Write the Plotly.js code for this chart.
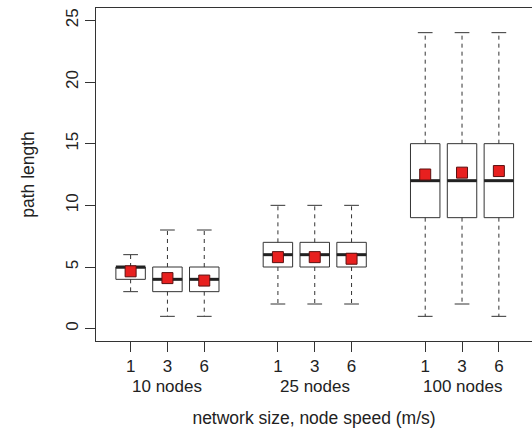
<!DOCTYPE html>
<html>
<head>
<meta charset="utf-8">
<script src="https://cdn.plot.ly/plotly-3.0.1.min.js"></script>
<style>html,body{margin:0;padding:0;background:#fff;}#chart{width:532px;height:428px;}</style>
</head>
<body>
<div id="chart"></div>
<script>
// ---- data ----
const positions = [1, 2, 3, 5, 6, 7, 9, 10, 11];
const speedLabels = ["1", "3", "6", "1", "3", "6", "1", "3", "6"];
const groupLabels = ["10 nodes", "25 nodes", "100 nodes"];
const lowerWhisker = [3, 1, 1, 2, 2, 2, 1, 2, 1];
const q1 = [4, 3, 3, 5, 5, 5, 9, 9, 9];
const median = [5, 4, 4, 6, 6, 6, 12, 12, 12];
const q3 = [5, 5, 5, 7, 7, 7, 15, 15, 15];
const upperWhisker = [6, 8, 8, 10, 10, 10, 24, 24, 24];
const means = [4.65, 4.1, 3.9, 5.8, 5.8, 5.67, 12.5, 12.65, 12.78];
const yTicks = [0, 5, 10, 15, 20, 25];

// ---- styling constants ----
const LINE = '#333333';
const FAMILY = '"Liberation Sans", Arial, Helvetica, sans-serif';
const FONT = {family: FAMILY, size: 17, color: '#222222'};
const TITLEFONT = {family: FAMILY, size: 17.5, color: '#222222'};
const BOXW = 0.8, CAPW = 0.4;

const wx = [], wy = [], cx = [], cy = [], mx = [], my = [];
positions.forEach((p, i) => {
  wx.push(p, p, null, p, p, null);
  wy.push(q3[i], upperWhisker[i], null, q1[i], lowerWhisker[i], null);
  cx.push(p - CAPW / 2, p + CAPW / 2, null, p - CAPW / 2, p + CAPW / 2, null);
  cy.push(upperWhisker[i], upperWhisker[i], null, lowerWhisker[i], lowerWhisker[i], null);
  mx.push(p - BOXW / 2, p + BOXW / 2, null);
  my.push(median[i], median[i], null);
});

const groupCenters = groupLabels.map((g, k) => {
  const ps = positions.slice(k * 3, k * 3 + 3);
  return ps.reduce((a, b) => a + b, 0) / ps.length;
});

const traces = [
  {
    type: 'box', x: positions, q1: q1, median: median, q3: q3,
    lowerfence: q1, upperfence: q3, width: BOXW, whiskerwidth: 0,
    boxpoints: false, fillcolor: '#ffffff', line: {color: LINE, width: 1},
    hoverinfo: 'skip', showlegend: false
  },
  {
    type: 'scatter', mode: 'lines', x: wx, y: wy,
    line: {color: LINE, width: 1, dash: '4px,4px'}, hoverinfo: 'skip', showlegend: false
  },
  {
    type: 'scatter', mode: 'lines', x: cx, y: cy,
    line: {color: LINE, width: 1}, hoverinfo: 'skip', showlegend: false
  },
  {
    type: 'scatter', mode: 'lines', x: mx, y: my,
    line: {color: '#222222', width: 3}, hoverinfo: 'skip', showlegend: false
  },
  {
    type: 'scatter', mode: 'markers', x: positions, y: means,
    marker: {symbol: 'square', size: 11, color: '#e8201f', line: {color: '#5a1010', width: 1}},
    hoverinfo: 'skip', showlegend: false
  }
];

const layout = {
  width: 532, height: 428,
  margin: {l: 96, r: 0, t: 8, b: 87, pad: 0},
  paper_bgcolor: '#ffffff', plot_bgcolor: '#ffffff',
  font: FONT,
  showlegend: false,
  xaxis: {
    range: [0.06, 11.9], tickmode: 'array', tickvals: positions, ticktext: speedLabels,
    ticks: 'outside', ticklen: 10, tickwidth: 1, tickcolor: LINE,
    showline: true, linecolor: LINE, linewidth: 1, mirror: true,
    showgrid: false, zeroline: false, tickfont: FONT,
    title: {text: 'network size, node speed (m/s)', font: TITLEFONT, standoff: 37}
  },
  yaxis: {
    range: [-1, 26], tickmode: 'array', tickvals: yTicks, ticktext: yTicks.map(String),
    ticks: 'outside', ticklen: 10, tickwidth: 1, tickcolor: LINE, tickangle: -90,
    showline: true, linecolor: LINE, linewidth: 1, mirror: false,
    showgrid: false, zeroline: false, tickfont: FONT,
    title: {text: 'path length', font: TITLEFONT, standoff: 24}
  },
  annotations: groupLabels.map((g, k) => ({
    text: g, x: groupCenters[k], xref: 'x', y: 0, yref: 'paper',
    yanchor: 'middle', xanchor: 'center', yshift: -45, showarrow: false, font: FONT
  }))
};

Plotly.newPlot('chart', traces, layout, {displayModeBar: false, staticPlot: true});
</script>
</body>
</html>
